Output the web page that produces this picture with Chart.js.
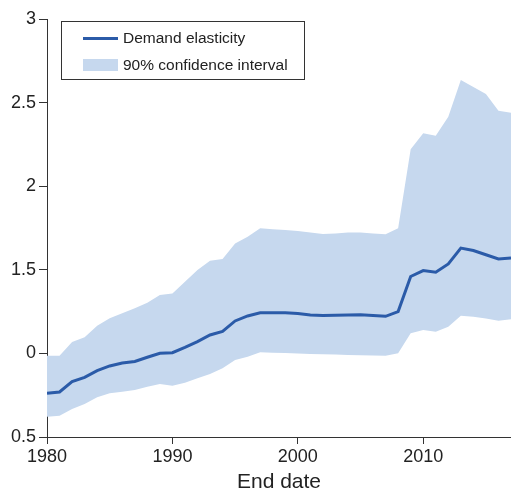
<!DOCTYPE html>
<html>
<head>
<meta charset="utf-8">
<script src="https://cdn.jsdelivr.net/npm/chart.js@4.4.1/dist/chart.umd.min.js"></script>
<style>
  html, body { margin: 0; padding: 0; background: #fff; }
  #wrap { width: 511px; height: 491px; }
</style>
</head>
<body>
<div id="wrap"><canvas id="elasticityChart" width="511" height="491"></canvas></div>
<script>
// end dates (years)
const years = [1980, 1981, 1982, 1983, 1984, 1985, 1986, 1987, 1988, 1989,
  1990, 1991, 1992, 1993, 1994, 1995, 1996, 1997, 1998, 1999,
  2000, 2001, 2002, 2003, 2004, 2005, 2006, 2007, 2008, 2009,
  2010, 2011, 2012, 2013, 2014, 2015, 2016, 2017];

const elasticity = [0.761, 0.769, 0.831, 0.857, 0.897, 0.925, 0.943, 0.952, 0.977, 1.001,
  1.004, 1.036, 1.070, 1.110, 1.131, 1.194, 1.224, 1.243, 1.243, 1.243,
  1.239, 1.230, 1.226, 1.228, 1.230, 1.231, 1.227, 1.222, 1.250, 1.460,
  1.495, 1.485, 1.535, 1.630, 1.615, 1.590, 1.565, 1.570];

const ciUpper = [0.986, 0.986, 1.068, 1.096, 1.166, 1.210, 1.240, 1.270, 1.303, 1.349,
  1.359, 1.429, 1.499, 1.554, 1.565, 1.658, 1.698, 1.748, 1.742, 1.738,
  1.732, 1.723, 1.714, 1.717, 1.723, 1.723, 1.717, 1.712, 1.748, 2.221,
  2.316, 2.302, 2.416, 2.635, 2.593, 2.551, 2.452, 2.440];

const ciLower = [0.621, 0.627, 0.667, 0.697, 0.737, 0.761, 0.771, 0.781, 0.801, 0.817,
  0.807, 0.825, 0.851, 0.877, 0.911, 0.961, 0.980, 1.007, 1.004, 1.002,
  0.999, 0.996, 0.995, 0.993, 0.990, 0.989, 0.987, 0.986, 1.001, 1.120,
  1.140, 1.130, 1.160, 1.225, 1.219, 1.209, 1.196, 1.204];

const xTickValues = [1980, 1990, 2000, 2010];
const yTickValues = [0.5, 1, 1.5, 2, 2.5, 3];
const yTickLabels = ['0.5', '0', '1.5', '2', '2.5', '3']; // as printed on the original

const LINE_COLOR = '#2b5ba8';
const BAND_COLOR = '#c6d8ee';
const AXIS_COLOR = '#333333';
const TEXT_COLOR = '#222222';
const FONT = 'Liberation Sans, Arial, Helvetica, sans-serif';

function toPoints(vals) {
  return years.map((y, i) => ({ x: y, y: vals[i] }));
}

// boxed legend in the top-left corner
const boxLegend = {
  id: 'boxLegend',
  afterDraw(chart) {
    const ctx = chart.ctx;
    ctx.save();
    ctx.strokeStyle = AXIS_COLOR;
    ctx.lineWidth = 1;
    ctx.strokeRect(61.5, 21.5, 243, 58);

    ctx.strokeStyle = LINE_COLOR;
    ctx.lineWidth = 3;
    ctx.beginPath();
    ctx.moveTo(83, 38.5);
    ctx.lineTo(118, 38.5);
    ctx.stroke();

    ctx.fillStyle = BAND_COLOR;
    ctx.fillRect(83, 59, 35, 12);

    ctx.fillStyle = TEXT_COLOR;
    ctx.font = '15.5px ' + FONT;
    ctx.textBaseline = 'middle';
    ctx.fillText('Demand elasticity', 123, 39);
    ctx.fillText('90% confidence interval', 123, 65.5);
    ctx.restore();
  }
};

const ctx = document.getElementById('elasticityChart').getContext('2d');
const chart = new Chart(ctx, {
  type: 'line',
  data: {
    datasets: [
      {
        label: 'Demand elasticity',
        data: toPoints(elasticity),
        borderColor: LINE_COLOR,
        borderWidth: 3,
        pointRadius: 0,
        fill: false,
        tension: 0
      },
      {
        label: '90% confidence interval',
        data: toPoints(ciUpper),
        borderWidth: 0,
        borderColor: 'rgba(0,0,0,0)',
        backgroundColor: BAND_COLOR,
        pointRadius: 0,
        fill: '+1',
        tension: 0
      },
      {
        label: 'lower',
        data: toPoints(ciLower),
        borderWidth: 0,
        borderColor: 'rgba(0,0,0,0)',
        pointRadius: 0,
        fill: false,
        tension: 0
      }
    ]
  },
  options: {
    responsive: false,
    animation: false,
    layout: { padding: { top: 19, right: 0, left: 0, bottom: 0 } },
    plugins: {
      legend: { display: false },
      tooltip: { enabled: false }
    },
    scales: {
      x: {
        type: 'linear',
        min: 1980,
        max: 2017,
        afterBuildTicks: (scale) => { scale.ticks = xTickValues.map(v => ({ value: v })); },
        afterFit: (scale) => { scale.height = 54; },
        grid: { display: true, drawOnChartArea: false, drawTicks: true, tickLength: 7, color: AXIS_COLOR },
        border: { display: true, color: AXIS_COLOR, width: 1 },
        ticks: {
          color: TEXT_COLOR,
          font: { family: FONT, size: 18 },
          padding: 2,
          maxRotation: 0,
          callback: (v) => String(v)
        },
        title: {
          display: true,
          text: 'End date',
          color: TEXT_COLOR,
          font: { family: FONT, size: 21, lineHeight: 0.8 },
          padding: { top: 0, bottom: 0 }
        }
      },
      y: {
        type: 'linear',
        min: 0.5,
        max: 3,
        afterBuildTicks: (scale) => { scale.ticks = yTickValues.map(v => ({ value: v })); },
        afterFit: (scale) => { scale.width = 47; },
        grid: { display: true, drawOnChartArea: false, drawTicks: true, tickLength: 8, color: AXIS_COLOR },
        border: { display: true, color: AXIS_COLOR, width: 1 },
        ticks: {
          color: TEXT_COLOR,
          font: { family: FONT, size: 18 },
          padding: 3,
          callback: (v) => yTickLabels[yTickValues.indexOf(v)]
        }
      }
    }
  },
  plugins: [boxLegend]
});
</script>
</body>
</html>
